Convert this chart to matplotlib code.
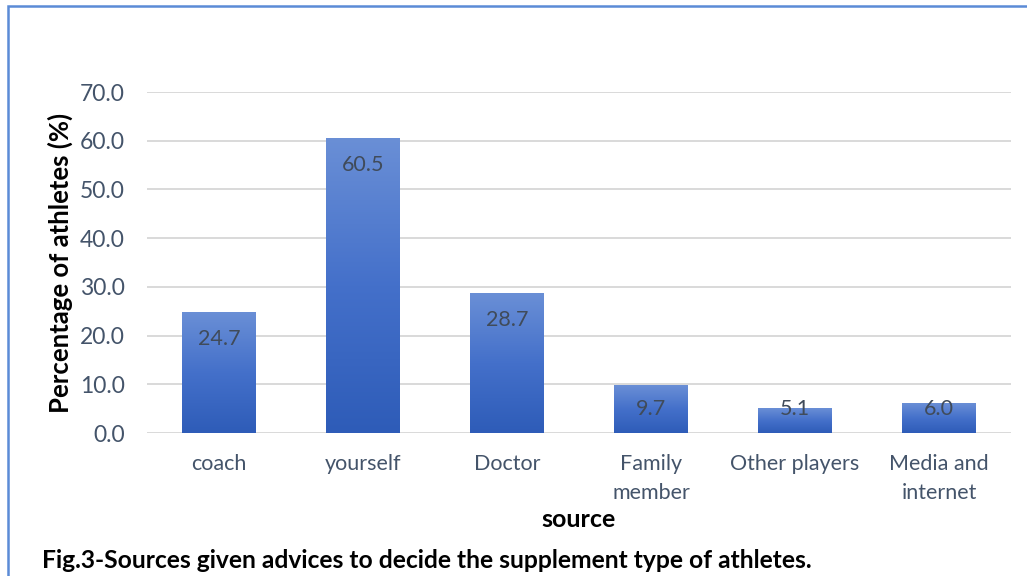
import numpy as np
import matplotlib
matplotlib.use("Agg")
import matplotlib.pyplot as plt
from matplotlib.patches import Rectangle
from matplotlib.colors import LinearSegmentedColormap

categorias = ["coach", "yourself", "Doctor", "Family\nmember", "Other players", "Media and\ninternet"]
valores = [24.7, 60.5, 28.7, 9.7, 5.1, 6.0]
yticks = [0, 10, 20, 30, 40, 50, 60, 70]

plt.rcParams["font.family"] = ["Lato", "DejaVu Sans"]
cor_texto = "#44546A"

fig = plt.figure(figsize=(10.27, 5.76), dpi=100)
ax = fig.add_axes([147 / 1027, 143 / 576, 864 / 1027, 341 / 576])

# moldura azul do quadro (estilo Word)
fig.patches.append(Rectangle((8 / 1027, -0.1), 1.2, (570 / 576) + 0.1, transform=fig.transFigure,
                             fill=False, edgecolor="#5B8BD6", linewidth=1.8))

x = np.arange(len(categorias))
barras = ax.bar(x, valores, width=0.51, color="none", zorder=3)

# degradê em cada barra
cmap = LinearSegmentedColormap.from_list("grad", ["#2E5CB8", "#4470CA", "#6A8FD6"])
grad = np.linspace(0, 1, 256).reshape(-1, 1)
for b in barras:
  x0, w, h = b.get_x(), b.get_width(), b.get_height()
  ax.imshow(grad, extent=(x0, x0 + w, 0, h), origin="lower", cmap=cmap,
            aspect="auto", zorder=3, interpolation="bicubic")

# rótulos de dados (dentro, no topo)
for xi, v in zip(x, valores):
  ax.text(xi, max(v - 5.5, 4.9), f"{v:.1f}", ha="center", va="center",
          fontsize=15.5, color="#404B5A", zorder=4)

ax.set_xlim(-0.5, len(categorias) - 0.5)
ax.set_ylim(0, 70)
ax.set_yticks(yticks)
ax.set_yticklabels([f"{t:.1f}" for t in yticks])
ax.set_xticks(x)
ax.set_xticklabels(categorias, linespacing=1.6)
ax.tick_params(axis="both", length=0, labelcolor=cor_texto)
ax.tick_params(axis="y", pad=16, labelsize=16.5)
ax.tick_params(axis="x", pad=15, labelsize=15.5)
ax.grid(axis="y", color="#D9D9D9", linewidth=1.4, zorder=0)
for s in ax.spines.values():
  s.set_visible(False)

ax.set_ylabel("Percentage of athletes (%)", fontsize=18.5, fontweight="bold", color="black", labelpad=5)
ax.set_xlabel("source", fontsize=18, fontweight="bold", color="black", labelpad=3)

fig.text(42 / 1027, 1 - 560 / 576, "Fig.3-Sources given advices to decide the supplement type of athletes.",
         fontsize=17.7, fontweight="bold", color="black", ha="left", va="center")

fig.savefig("out.png", dpi=100)
